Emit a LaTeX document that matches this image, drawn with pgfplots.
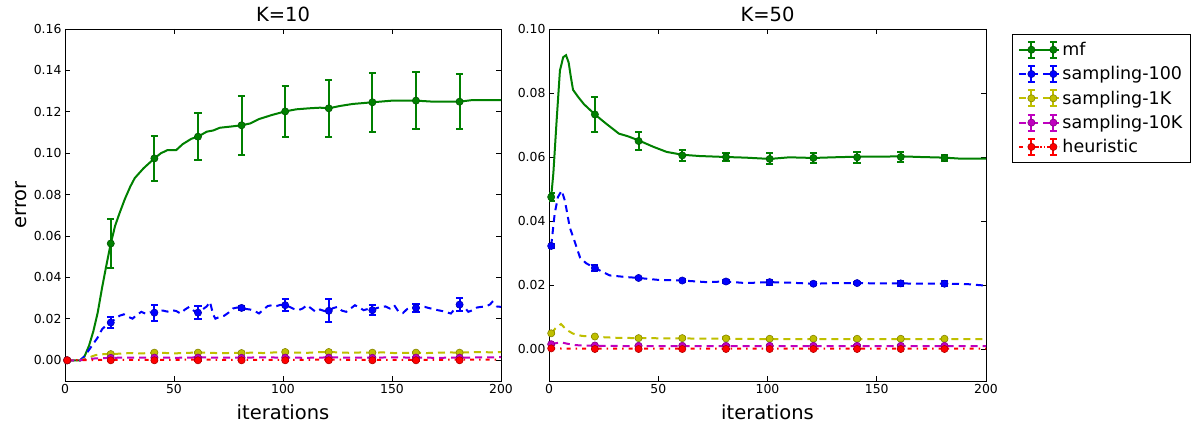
\documentclass[border=0pt]{standalone}
\usepackage{fontspec}
\setmainfont{DejaVu Sans}
\usepackage{pgfplots}
\pgfplotsset{compat=1.18}

\definecolor{mpg}{rgb}{0,0.5,0}
\definecolor{mpb}{rgb}{0,0,1}
\definecolor{mpy}{rgb}{0.75,0.75,0}
\definecolor{mpm}{rgb}{0.75,0,0.75}
\definecolor{mpr}{rgb}{1,0,0}

\newcommand{\lf}{\fontsize{17.5}{20}\selectfont}

\pgfplotsset{
  panel/.style={
    scale only axis, width=436pt, height=352pt,
    xmin=0, xmax=200, xtick={0,50,...,200},
    tick align=inside, major tick length=5pt,
    axis line style={line width=0.8pt},
    tick style={line width=0.8pt, black},
    ticklabel style={font=\fontsize{12.4}{14}\selectfont},
    /pgf/number format/assume math mode=true,
    yticklabel style={/pgf/number format/.cd, fixed, fixed zerofill, precision=2},
    scaled y ticks=false,
    xlabel={iterations},
    label style={font=\fontsize{19.5}{22}\selectfont},
    xlabel style={yshift=-4pt},
    title style={font=\fontsize{19.5}{22}\selectfont, yshift=-2pt},
  },
  cline/.style={line width=2pt, forget plot},
  cdash/.style={dash pattern=on 7pt off 5pt},
  cdot/.style={dash pattern=on 4pt off 5pt on 1.5pt off 5pt},
  cmark/.style={#1, only marks, mark=*, mark size=3.6pt, forget plot, line width=2pt,
    mark options={solid, fill=#1, draw=#1!70!black, line width=0.6pt},
    error bars/.cd, y dir=both, y explicit,
    error bar style={#1, line width=2pt, solid},
    error mark=-,
    error mark options={#1, rotate=90, line width=2pt, mark size=3.6pt, solid}},
}

\begin{document}
\begin{tikzpicture}
\useasboundingbox (0,0) rectangle (1200pt,426pt);

% ---------------- K=10
\begin{axis}[panel, at={(65pt,45pt)}, anchor=south west,
  title={K=10}, ylabel={error},
  ymin=-0.01, ymax=0.16, ytick={0,0.02,...,0.16}]
\addplot[mpg, cline] coordinates {
(1,0)(3,0)(5,0)(7,0)(9,0.002)(11,0.007)(13,0.014)(15,0.023)(17,0.035)(19,0.046)
(21,0.0564)(23,0.065)(25,0.071)(27.5,0.078)(30,0.084)(32,0.088)(36,0.0927)(41,0.0975)
(44,0.1)(47,0.1015)(51,0.1015)(54,0.1044)(58,0.107)(61,0.108)(65,0.1104)(68,0.111)
(71,0.1123)(77,0.113)(81,0.1135)(85,0.1144)(89,0.1165)(95,0.1185)(101,0.1202)
(106,0.1212)(112,0.1217)(117,0.122)(121,0.1217)(126,0.1228)(132,0.1238)(141,0.1246)
(150,0.1254)(155,0.1254)(161,0.1254)(169,0.1249)(181,0.1249)(187,0.1257)(200,0.1257)};
\addplot[cmark=mpg] coordinates {
(1,0) +- (0,0) (21,0.0564) +- (0,0.0116) (41,0.0975) +- (0,0.011)
(61,0.108) +- (0,0.0113) (81,0.1135) +- (0,0.0143) (101,0.1202) +- (0,0.0123)
(121,0.1217) +- (0,0.0137) (141,0.1246) +- (0,0.0143) (161,0.1254) +- (0,0.0137)
(181,0.1249) +- (0,0.0133)};

\addplot[mpb, cline, cdash] coordinates {
(1,0)(5,0)(7,0)(9,0.002)(11,0.005)(13,0.008)(15,0.011)(17,0.015)(19,0.017)(21,0.0182)
(23,0.02)(25,0.0215)(27,0.0222)(29,0.021)(31,0.0201)(33,0.022)(35,0.0234)(37,0.0225)
(39,0.0232)(41,0.023)(43,0.0238)(45,0.024)(47,0.0235)(49,0.0242)(51,0.0238)(53,0.0226)
(55,0.0245)(57,0.0258)(59,0.024)(61,0.023)(63,0.0245)(65,0.026)(66.5,0.0282)(68,0.022)
(69,0.0201)(71,0.021)(73,0.0215)(75,0.023)(77,0.025)(79,0.0255)(81,0.0253)(83,0.0248)
(85,0.0245)(87,0.0238)(89,0.0226)(91,0.0245)(93,0.0262)(95,0.0266)(97,0.0262)(99,0.0268)
(101,0.0266)(103,0.0258)(105,0.0248)(107,0.0242)(109,0.025)(111,0.0266)(113,0.025)
(115,0.0234)(117,0.0245)(119,0.0238)(121,0.0239)(123,0.0252)(125,0.0258)(127,0.024)
(129,0.0234)(131,0.025)(133,0.0266)(135,0.0255)(137,0.0242)(139,0.0248)(141,0.0242)
(143,0.0252)(145,0.0258)(147,0.026)(149,0.025)(151,0.0266)(153,0.0235)(155,0.0228)
(157,0.0248)(159,0.0255)(161,0.0253)(163,0.0255)(165,0.0258)(167,0.0252)(169,0.0248)
(171,0.0242)(173,0.0238)(175,0.0232)(177,0.0226)(179,0.025)(181,0.0269)(183,0.026)
(185,0.0234)(187,0.0242)(189,0.0255)(191,0.0258)(193,0.026)(195,0.027)(196,0.0282)
(198,0.026)(200,0.0258)};
\addplot[cmark=mpb] coordinates {
(1,0) +- (0,0) (21,0.0182) +- (0,0.0025) (41,0.023) +- (0,0.0038)
(61,0.023) +- (0,0.003) (81,0.0253) +- (0,0.0008) (101,0.0266) +- (0,0.003)
(121,0.0239) +- (0,0.0055) (141,0.0242) +- (0,0.0025) (161,0.0253) +- (0,0.002)
(181,0.0269) +- (0,0.003)};

\addplot[mpy, cline, cdash] coordinates {
(1,0)(7,0)(10,0.001)(14,0.0025)(18,0.003)(21,0.003)(25,0.0032)(30,0.0035)(35,0.0033)
(41,0.0037)(45,0.0036)(50,0.0033)(55,0.0036)(61,0.0037)(67,0.0036)(72,0.0034)(77,0.0036)
(81,0.0035)(86,0.0037)(91,0.0035)(96,0.0038)(101,0.004)(106,0.0037)(111,0.0036)
(116,0.0039)(121,0.004)(126,0.0038)(131,0.0036)(136,0.0038)(141,0.0037)(146,0.0038)
(151,0.0035)(156,0.0036)(161,0.0037)(166,0.0035)(171,0.0037)(176,0.0038)(181,0.0037)
(186,0.0039)(191,0.004)(196,0.0038)(200,0.004)};
\addplot[cmark=mpy] coordinates {
(1,0) +- (0,0) (21,0.003) +- (0,0.0004) (41,0.0037) +- (0,0.0004)
(61,0.0037) +- (0,0.0004) (81,0.0035) +- (0,0.0004) (101,0.004) +- (0,0.0004)
(121,0.004) +- (0,0.0004) (141,0.0037) +- (0,0.0004) (161,0.0037) +- (0,0.0004)
(181,0.0037) +- (0,0.0004)};

\addplot[mpm, cline, cdash] coordinates {
(1,0)(7,0)(12,0.0008)(21,0.0012)(31,0.0013)(41,0.0013)(51,0.0012)(61,0.0014)(71,0.0013)
(81,0.0013)(91,0.0014)(101,0.0013)(111,0.0012)(121,0.0014)(131,0.0013)(141,0.0013)
(151,0.0014)(161,0.0013)(171,0.0012)(181,0.0013)(191,0.0014)(200,0.0015)};
\addplot[cmark=mpm] coordinates {
(1,0) +- (0,0) (21,0.0012) +- (0,0.0003) (41,0.0013) +- (0,0.0003)
(61,0.0013) +- (0,0.0003) (81,0.0012) +- (0,0.0003) (101,0.0013) +- (0,0.0003)
(121,0.0013) +- (0,0.0003) (141,0.0012) +- (0,0.0003) (161,0.0013) +- (0,0.0003)
(181,0.0013) +- (0,0.0003)};

\addplot[mpr, cline, cdot] coordinates {
(1,0)(21,0.0002)(41,0.0002)(61,0.0003)(81,0.0002)(101,0.0002)(121,0.0003)(141,0.0002)
(161,0.0002)(181,0.0003)(200,0.0003)};
\addplot[cmark=mpr] coordinates {
(1,0) +- (0,0) (21,0) +- (0,0.0002) (41,0) +- (0,0.0002)
(61,0) +- (0,0.0002) (81,0) +- (0,0.0002) (101,0) +- (0,0.0002)
(121,0) +- (0,0.0002) (141,0) +- (0,0.0002) (161,0) +- (0,0.0002)
(181,0) +- (0,0.0002)};
\end{axis}

% ---------------- K=50
\begin{axis}[panel, at={(549pt,45pt)}, anchor=south west, width=437pt,
  title={K=50},
  ymin=-0.01, ymax=0.10, ytick={0,0.02,...,0.10},
  legend style={at={(1.0595,0.986)}, anchor=north west, draw=black, line width=0.8pt,
    row sep=5.5pt, inner xsep=6pt, inner ysep=6pt},
  legend cell align=left,
  legend image code/.code={
    \path (-12pt,0pt) -- (28pt,0pt);
    \draw[#1, mark=none] (0pt,0pt) -- (22pt,0pt);
    \draw[#1, solid, line width=2pt, mark=none]
      (0pt,-8pt) -- (0pt,8pt) (22pt,-8pt) -- (22pt,8pt)
      (-3.5pt,-8pt) -- (3.5pt,-8pt) (-3.5pt,8pt) -- (3.5pt,8pt)
      (18.5pt,-8pt) -- (25.5pt,-8pt) (18.5pt,8pt) -- (25.5pt,8pt);
    \draw[#1, only marks] plot coordinates {(0pt,0pt) (22pt,0pt)};
  }]
\addplot[mpg, cline] coordinates {
(1,0.0475)(2,0.055)(3.5,0.0715)(5,0.087)(6.5,0.0912)(7.8,0.0918)(9,0.0895)(10,0.085)
(11,0.081)(13.3,0.0788)(16,0.0765)(21,0.0733)(26,0.0705)(32,0.0673)(36,0.0665)
(41,0.0652)(47.7,0.0632)(53.8,0.0616)(61,0.0607)(69,0.0603)(81,0.06)(90,0.0598)
(101,0.0594)(110,0.0599)(121,0.0597)(130,0.0599)(141,0.0601)(150,0.0601)(161,0.0602)
(170,0.06)(181,0.0598)(188,0.0595)(200,0.0595)};
\addplot[cmark=mpg] coordinates {
(1,0.0475) +- (0,0.0012) (21,0.0733) +- (0,0.0055) (41,0.065) +- (0,0.0029)
(61,0.0605) +- (0,0.0016) (81,0.06) +- (0,0.0012) (101,0.0594) +- (0,0.0017)
(121,0.0597) +- (0,0.0015) (141,0.0599) +- (0,0.0017) (161,0.06) +- (0,0.0017)
(181,0.0597) +- (0,0.001)};

\addplot[mpb, cline, cdash] coordinates {
(1,0.0322)(2.6,0.0423)(4.1,0.0475)(5.8,0.0495)(7.2,0.0465)(8.1,0.0433)(9.5,0.038)
(11.1,0.0349)(14.2,0.0286)(17,0.0268)(21,0.0253)(27.8,0.023)(35,0.0225)(41,0.0222)
(50,0.0216)(61,0.0214)(72,0.0209)(81,0.0211)(90,0.0206)(101,0.0209)(111,0.0207)
(121,0.0204)(131,0.0206)(141,0.0206)(151,0.0205)(161,0.0205)(171,0.0204)(181,0.0204)
(191,0.0203)(200,0.0198)};
\addplot[cmark=mpb] coordinates {
(1,0.0322) +- (0,0.0005) (21,0.0253) +- (0,0.001) (41,0.0222) +- (0,0.0004)
(61,0.0214) +- (0,0.0004) (81,0.0211) +- (0,0.0004) (101,0.0209) +- (0,0.0008)
(121,0.0204) +- (0,0.0004) (141,0.0206) +- (0,0.0004) (161,0.0205) +- (0,0.0008)
(181,0.0204) +- (0,0.0008)};

\addplot[mpy, cline, cdash] coordinates {
(1,0.0048)(3,0.0065)(5.5,0.0078)(8,0.006)(11,0.0048)(15,0.0041)(21,0.0038)(31,0.0035)
(41,0.0034)(61,0.0033)(81,0.0032)(101,0.0031)(121,0.0031)(141,0.0031)(161,0.0031)
(181,0.0031)(200,0.0031)};
\addplot[cmark=mpy] coordinates {
(1,0.0049) +- (0,0.0003) (21,0.0039) +- (0,0.0003) (41,0.0034) +- (0,0.0003)
(61,0.0034) +- (0,0.0003) (81,0.0033) +- (0,0.0003) (101,0.0032) +- (0,0.0003)
(121,0.0032) +- (0,0.0003) (141,0.0032) +- (0,0.0003) (161,0.0032) +- (0,0.0003)
(181,0.0032) +- (0,0.0003)};

\addplot[mpm, cline, cdash] coordinates {
(1,0.0015)(3,0.0018)(5.5,0.0021)(8,0.0017)(12,0.0012)(21,0.001)(41,0.0009)(81,0.0009)
(121,0.0009)(161,0.0009)(200,0.0009)};
\addplot[cmark=mpm] coordinates {
(1,0.0015) +- (0,0.0002) (21,0.0011) +- (0,0.0002) (41,0.001) +- (0,0.0002)
(61,0.001) +- (0,0.0002) (81,0.001) +- (0,0.0002) (101,0.001) +- (0,0.0002)
(121,0.001) +- (0,0.0002) (141,0.001) +- (0,0.0002) (161,0.001) +- (0,0.0002)
(181,0.001) +- (0,0.0002)};

\addplot[mpr, cline, cdot] coordinates {
(1,0.0002)(11,0.0001)(41,0.0001)(81,0.0001)(121,0.0001)(161,0.0001)(200,0.0001)};
\addplot[cmark=mpr] coordinates {
(1,0.0002) +- (0,0.0002) (21,0) +- (0,0.0001) (41,0) +- (0,0.0001)
(61,0) +- (0,0.0001) (81,0) +- (0,0.0001) (101,0) +- (0,0.0001)
(121,0) +- (0,0.0001) (141,0) +- (0,0.0001) (161,0) +- (0,0.0001)
(181,0) +- (0,0.0001)};

\addlegendimage{mpg, solid, line width=2pt, mark=*, mark size=3.6pt,
  mark options={solid, fill=mpg, draw=mpg!70!black, line width=0.6pt}}
\addlegendentry{\lf mf}
\addlegendimage{mpb, cdash, line width=2pt, mark=*, mark size=3.6pt,
  mark options={solid, fill=mpb, draw=mpb!70!black, line width=0.6pt}}
\addlegendentry{\lf sampling-100}
\addlegendimage{mpy, cdash, line width=2pt, mark=*, mark size=3.6pt,
  mark options={solid, fill=mpy, draw=mpy!70!black, line width=0.6pt}}
\addlegendentry{\lf sampling-1K}
\addlegendimage{mpm, cdash, line width=2pt, mark=*, mark size=3.6pt,
  mark options={solid, fill=mpm, draw=mpm!70!black, line width=0.6pt}}
\addlegendentry{\lf sampling-10K}
\addlegendimage{mpr, cdot, line width=2pt, mark=*, mark size=3.6pt,
  mark options={solid, fill=mpr, draw=mpr!70!black, line width=0.6pt}}
\addlegendentry{\lf heuristic}
\end{axis}
\end{tikzpicture}
\end{document}
